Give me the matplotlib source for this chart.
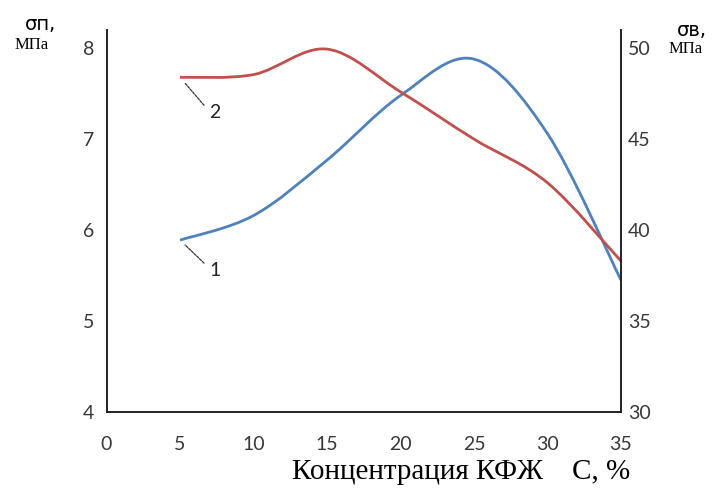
import numpy as np
import matplotlib.pyplot as plt
from matplotlib.path import Path
from matplotlib.patches import PathPatch

# concentration of КФЖ, % and strength readings
conc = [5, 10, 15, 20, 25, 30, 35]
sigma_p = [5.89, 6.16, 6.77, 7.48, 7.88, 7.06, 5.45]   # curve 1, МПа
sigma_v = [48.4, 48.55, 49.95, 47.6, 45.0, 42.6, 38.3]  # curve 2, МПа

x_ticks = [0, 5, 10, 15, 20, 25, 30, 35]
left_ticks = [4, 5, 6, 7, 8]
right_ticks = [30, 35, 40, 45, 50]

BLUE = "#4f81bd"
RED = "#c0504d"
TICK_COLOR = "#383838"

plt.rcParams["font.family"] = ["Lato", "DejaVu Sans"]


def smooth_path(x, y):
    # Catmull-Rom curve through the points, as cubic Bezier segments
    pts = np.column_stack([x, y]).astype(float)
    ext = np.vstack([pts[0], pts, pts[-1]])
    verts = [pts[0]]
    codes = [Path.MOVETO]
    for i in range(len(pts) - 1):
        p0, p1, p2, p3 = ext[i], ext[i + 1], ext[i + 2], ext[i + 3]
        verts += [p1 + (p2 - p0) / 6, p2 - (p3 - p1) / 6, p2]
        codes += [Path.CURVE4] * 3
    return Path(verts, codes)


fig = plt.figure(figsize=(7.2, 4.88), dpi=100)
ax = fig.add_axes([0.148, 0.1557, 0.7145, 0.7828])
ax2 = ax.twinx()

ax.add_patch(PathPatch(smooth_path(conc, sigma_p), fill=False, edgecolor=BLUE, lw=2.0))
ax2.add_patch(PathPatch(smooth_path(conc, sigma_v), fill=False, edgecolor=RED, lw=2.0))

ax.set_xlim(0, 35)
ax.set_ylim(4, 8.2)
ax2.set_ylim(30, 51)

ax.set_xticks(x_ticks)
ax.set_yticks(left_ticks)
ax2.set_yticks(right_ticks)

for a in (ax, ax2):
    a.spines["top"].set_visible(False)
    for s in a.spines.values():
        s.set_linewidth(1.4)
        s.set_color("#222222")
ax.spines["right"].set_visible(False)
ax2.spines["left"].set_visible(False)
ax2.spines["bottom"].set_visible(False)

ax.tick_params(axis="x", length=0, pad=17, labelsize=14, labelcolor=TICK_COLOR)
ax.tick_params(axis="y", length=0, pad=9, labelsize=14, labelcolor=TICK_COLOR)
ax2.tick_params(axis="y", length=0, pad=5, labelsize=14, labelcolor=TICK_COLOR)

ax.set_xlabel("Концентрация КФЖ    С, %", family="Liberation Serif", fontsize=21)
ax.xaxis.set_label_coords(0.69, -0.122)

# axis titles
fig.text(40 / 720, 1 - 25 / 488, "σп,", ha="center", va="center", fontsize=14, family="DejaVu Sans")
fig.text(32 / 720, 1 - 45 / 488, "МПа", ha="center", va="center", fontsize=12, family="Liberation Serif")
fig.text(692 / 720, 1 - 30 / 488, "σв,", ha="center", va="center", fontsize=14, family="DejaVu Sans")
fig.text(686 / 720, 1 - 49 / 488, "МПа", ha="center", va="center", fontsize=12, family="Liberation Serif")

# curve numbers with leader lines
leader = dict(arrowstyle="-", shrinkA=0, shrinkB=5, lw=0.9, ls=(0, (2, 1)), color="#333333")
ax.annotate("", xy=(conc[0], sigma_p[0]), xytext=(24, -23), textcoords="offset pixels", arrowprops=leader)
ax.annotate("1", xy=(conc[0], sigma_p[0]), xytext=(35, -30), textcoords="offset pixels",
            ha="center", va="center", fontsize=14, color="#222222")
ax2.annotate("", xy=(conc[0], sigma_v[0]), xytext=(24, -28), textcoords="offset pixels", arrowprops=leader)
ax2.annotate("2", xy=(conc[0], sigma_v[0]), xytext=(35, -35), textcoords="offset pixels",
             ha="center", va="center", fontsize=14, color="#222222")

fig.savefig("out.png", dpi=100)
